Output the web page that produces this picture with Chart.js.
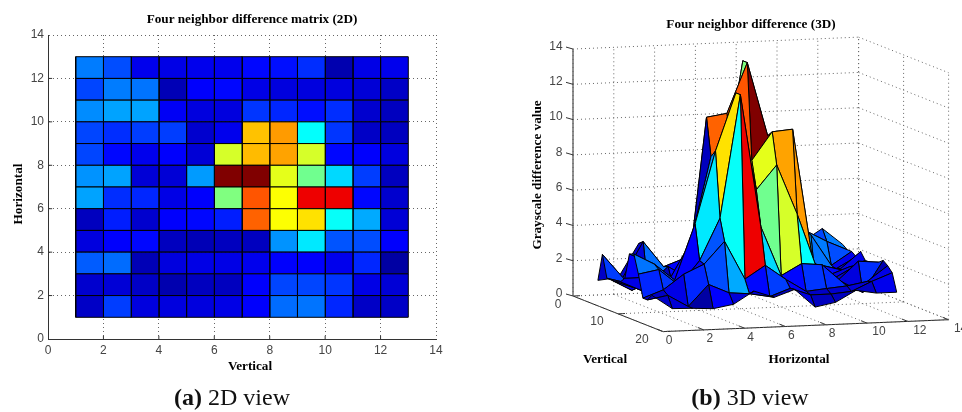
<!DOCTYPE html>
<html>
<head>
<meta charset="utf-8">
<title>Four neighbor difference</title>
<script src="https://cdn.jsdelivr.net/npm/chart.js@4"></script>
<style>
  html, body { margin: 0; padding: 0; background: #fff; width: 962px; height: 412px; overflow: hidden; }
  canvas { position: absolute; top: 0; filter: blur(0.4px); }
  #chart2d { left: 0; }
  #chart3d { left: 500px; }
  .cap { position: absolute; top: 397px; font: 24px "Liberation Serif", serif; color: #111; transform: translate(-50%, -50%); white-space: nowrap; }
</style>
</head>
<body>
<canvas id="chart2d" width="500" height="412"></canvas>
<canvas id="chart3d" width="462" height="412"></canvas>
<div class="cap" style="left:232px"><b>(a)</b> 2D view</div>
<div class="cap" style="left:750px"><b>(b)</b> 3D view</div>
<script>
// difference values, one row per "Horizontal" index 1..13
const row1 = [0.94, 2.51, 1.26, 1.26, 1.26, 1.36, 1.67, 3.14, 3.24, 2.2, 0.94, 0.94, 1.3];
const row2 = [1.05, 1.15, 0.94, 0.63, 0.84, 0.84, 1.67, 2.62, 2.62, 2.41, 1.36, 1.15, 0.5];
const row3 = [2.93, 3.14, 0.73, 1.26, 1.36, 1.36, 1.46, 1.67, 1.67, 1.46, 2.2, 0.47, 0.47];
const row4 = [1.26, 1.67, 1.78, 0.84, 0.73, 0.84, 0.84, 3.66, 4.81, 2.82, 2.72, 1.67, 0.4];
const row5 = [0.84, 2.09, 1.05, 1.67, 1.78, 2.09, 10.6, 8.47, 8.89, 5.18, 3.97, 1.15, 0.6];
const row6 = [3.87, 2.3, 2.2, 1.36, 1.67, 6.8, 10.77, 8.47, 12.13, 12.13, 1.78, 1.05, 1.3];
const row7 = [3.66, 3.87, 1.15, 1.15, 3.77, 13.6, 13.6, 8.16, 6.59, 4.6, 2.51, 0.84, 0.9];
const row8 = [2.62, 1.78, 1.46, 1.67, 1.15, 7.95, 9.41, 9.73, 7.95, 1.78, 1.67, 1.26, 1.3];
const row9 = [2.62, 2.3, 2.51, 2.51, 1.05, 1.46, 9.31, 9.83, 5.13, 2.41, 0.94, 0.84, 0.25];
const row10 = [3.56, 3.87, 3.87, 1.57, 1.26, 1.26, 2.41, 2.2, 1.88, 2.3, 1.05, 0.84, 0.47];
const row11 = [2.62, 3.35, 3.24, 0.73, 1.67, 1.78, 1.36, 1.26, 1.26, 1.26, 1.15, 0.94, 1.1];
const row12 = [3.35, 2.72, 1.46, 1.36, 1.46, 1.46, 1.78, 1.88, 2.3, 0.63, 1.36, 1.46, 0.9];
const row13 = [2.4, 2.2, 2.2, 2.0, 2.4, 2.0, 2.0, 2.0, 2.2, 2.4, 2.2, 1.9, 0.9];
const rows = [row1, row2, row3, row4, row5, row6, row7, row8, row9, row10, row11, row12, row13];

const ticks2d = [0, 2, 4, 6, 8, 10, 12, 14];
const hTicks = [0, 2, 4, 6, 8, 10, 12, 14];
const vTicks = [0, 10, 20];
const zTicks = [0, 2, 4, 6, 8, 10, 12, 14];

const colorMax = 13.6;
const serif = '"Liberation Serif", serif';
const sans = '"Liberation Sans", sans-serif';
const tickColor = '#444';
const gridColor = '#666';
const tickFont = `12px ${sans}`;
const boldFont = `bold 13.2px ${serif}`;

function clamp01(a) { return Math.max(0, Math.min(1, a)); }

// MATLAB jet
function jet(value) {
    const t = clamp01(value / colorMax);
    const r = clamp01(Math.min(4 * t - 1.5, -4 * t + 4.5));
    const g = clamp01(Math.min(4 * t - 0.5, -4 * t + 3.5));
    const b = clamp01(Math.min(4 * t + 0.5, -4 * t + 2.5));
    return `rgb(${Math.round(r * 255)},${Math.round(g * 255)},${Math.round(b * 255)})`;
}

function polygon(points, value) {
    return {
        data: points,
        showLine: true,
        fill: 'shape',
        backgroundColor: jet(value),
        borderColor: '#000',
        borderWidth: 1,
        pointRadius: 0,
        tension: 0
    };
}

function segment(a, b, color, dash) {
    return {
        data: [a, b],
        showLine: true,
        fill: false,
        borderColor: color,
        borderWidth: 1,
        borderDash: dash || [],
        pointRadius: 0,
        tension: 0
    };
}

function putText(ctx, text, x, y, font, color, rotate) {
    ctx.save();
    ctx.translate(x, y);
    if (rotate) ctx.rotate(-Math.PI / 2);
    ctx.font = font;
    ctx.fillStyle = color;
    ctx.textAlign = 'center';
    ctx.textBaseline = 'middle';
    ctx.fillText(text, 0, 0);
    ctx.restore();
}

/* 2D view */
const cells2d = [];
for (let i = 0; i < 12; i++) {
    for (let j = 0; j < 12; j++) {
        const x = j + 1, y = i + 1;
        cells2d.push(polygon([{x: x, y: y}, {x: x + 1, y: y}, {x: x + 1, y: y + 1}, {x: x, y: y + 1}, {x: x, y: y}], rows[i][j]));
    }
}
ticks2d.slice(1, -1).forEach(t => {
    cells2d.push(segment({x: t, y: 0}, {x: t, y: 0.15}, '#333'));
    cells2d.push(segment({x: 0, y: t}, {x: 0.15, y: t}, '#333'));
});

function axis2d(isX) {
    return {
        type: 'linear',
        min: 0,
        max: 14,
        afterBuildTicks: a => { a.ticks = ticks2d.map(v => ({value: v})); },
        afterFit: a => { if (isX) a.height = 73; else a.width = 48; },
        grid: {color: gridColor, lineWidth: 1, drawTicks: false},
        border: {display: true, color: '#333', width: 1, dash: [1, 3]},
        ticks: {color: tickColor, font: {family: sans, size: 12}, padding: 4, maxRotation: 0, autoSkip: false}
    };
}

const labels2d = {
    id: 'labels2d',
    afterDraw(chart) {
        const ctx = chart.ctx;
        putText(ctx, 'Four neighbor difference matrix (2D)', 252, 20, boldFont, '#000');
        putText(ctx, 'Vertical', 250, 367, boldFont, '#000');
        putText(ctx, 'Horizontal', 19, 194, boldFont, '#000', true);
    }
};

new Chart(document.getElementById('chart2d'), {
    type: 'scatter',
    data: {datasets: cells2d},
    options: {
        responsive: false,
        animation: false,
        events: [],
        layout: {padding: {left: 0, right: 64, top: 35, bottom: 0}},
        plugins: {legend: {display: false}, tooltip: {enabled: false}},
        scales: {x: axis2d(true), y: axis2d(false)}
    },
    plugins: [labels2d]
});

/* 3D view: affine projection of (horizontal, vertical, height) onto the canvas scales */
function project(h, v, z) {
    return {
        x: 73 + 20.4 * h + 4.5 * v,
        y: 296 - 0.85 * h + 1.78 * v - 17.64 * z
    };
}

// faces sorted front to back, the first dataset is painted last
const faces = [];
for (let i = 0; i < 12; i++) {
    for (let j = 0; j < 12; j++) {
        const h = i + 1, v = j + 1;
        faces.push({
            depth: -0.85 * (h + 0.5) + 1.78 * (v + 0.5),
            set: polygon([
                project(h, v, rows[i][j]),
                project(h + 1, v, rows[i + 1][j]),
                project(h + 1, v + 1, rows[i + 1][j + 1]),
                project(h, v + 1, rows[i][j + 1]),
                project(h, v, rows[i][j])
            ], rows[i][j])
        });
    }
}
faces.sort((a, b) => b.depth - a.depth);

const axes3d = [];
const dots = [1, 3];
zTicks.forEach(z => {
    axes3d.push(segment(project(0, 0, z), project(14, 0, z), gridColor, dots));
    axes3d.push(segment(project(14, 0, z), project(14, 20, z), gridColor, dots));
    const p = project(0, 0, z);
    axes3d.push(segment(p, {x: p.x - 7, y: p.y - 2}, '#333'));
});
hTicks.forEach(h => {
    axes3d.push(segment(project(h, 0, 0), project(h, 0, 14), gridColor, dots));
    axes3d.push(segment(project(h, 0, 0), project(h, 20, 0), gridColor, dots));
    const p = project(h, 20, 0);
    axes3d.push(segment(p, {x: p.x - 6, y: p.y - 2.4}, '#333'));
});
vTicks.forEach(v => {
    axes3d.push(segment(project(0, v, 0), project(14, v, 0), gridColor, dots));
    axes3d.push(segment(project(14, v, 0), project(14, v, 14), gridColor, dots));
    const p = project(0, v, 0);
    axes3d.push(segment(p, {x: p.x + 7, y: p.y - 0.3}, '#333'));
});
axes3d.push(segment(project(0, 0, 0), project(0, 0, 14), '#222'));
axes3d.push(segment(project(0, 0, 0), project(0, 20, 0), '#222'));
axes3d.push(segment(project(0, 20, 0), project(14, 20, 0), '#222'));

const labels3d = {
    id: 'labels3d',
    afterDraw(chart) {
        const {ctx, scales} = chart;
        const put = (text, x, y, font, color, rotate) =>
            putText(ctx, text, scales.x.getPixelForValue(x), scales.y.getPixelForValue(y), font, color, rotate);
        zTicks.forEach(z => {
            const p = project(0, 0, z);
            put(String(z), z > 9 ? p.x - 17 : p.x - 14, p.y - 2.5, tickFont, tickColor);
        });
        hTicks.forEach(h => {
            const p = project(h, 20, 0);
            put(String(h), p.x + (h > 9 ? 12 : 6), p.y + 9, tickFont, tickColor);
        });
        vTicks.forEach(v => {
            const p = project(0, v, 0);
            put(String(v), p.x + (v > 9 ? -21 : -15), p.y + (v > 9 ? 8 : 9), tickFont, tickColor);
        });
        put('Four neighbor difference (3D)', 251, 25, boldFont, '#000');
        put('Vertical', 105, 360, boldFont, '#000');
        put('Horizontal', 299, 360, boldFont, '#000');
        put('Grayscale difference value', 38, 175, boldFont, '#000', true);
    }
};

new Chart(document.getElementById('chart3d'), {
    type: 'scatter',
    data: {datasets: faces.map(f => f.set).concat(axes3d)},
    options: {
        responsive: false,
        animation: false,
        events: [],
        plugins: {legend: {display: false}, tooltip: {enabled: false}},
        scales: {
            x: {type: 'linear', display: false, min: 0, max: 462},
            y: {type: 'linear', display: false, min: 0, max: 412, reverse: true}
        }
    },
    plugins: [labels3d]
});
</script>
</body>
</html>
